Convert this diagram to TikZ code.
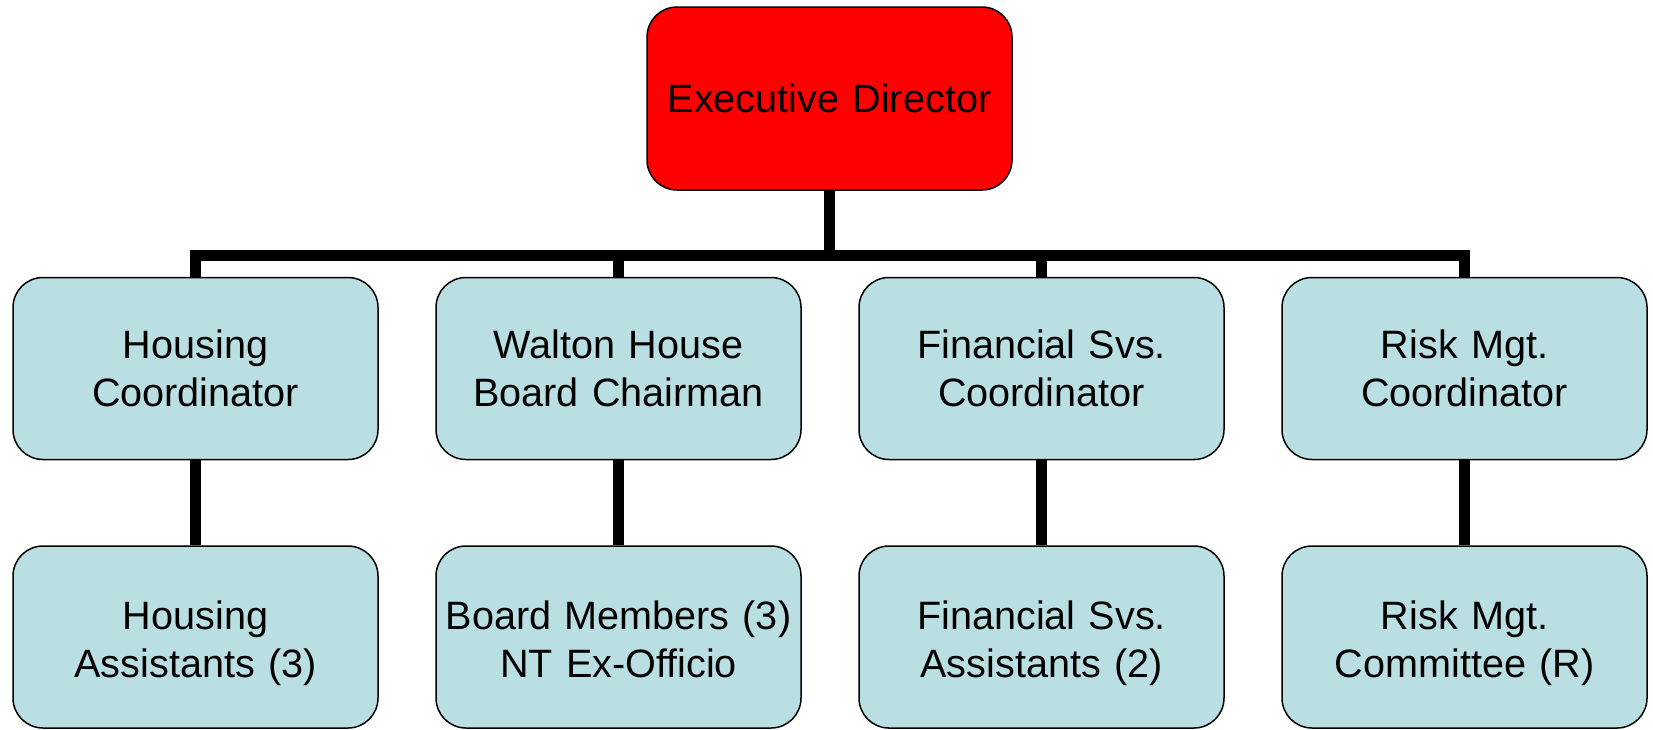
\documentclass[tikz,border=0pt]{standalone}
\usepackage{fontspec}
\setmainfont{Liberation Sans}
\usetikzlibrary{backgrounds}
\definecolor{boxblue}{HTML}{B9DFE3}
\definecolor{boxred}{HTML}{FF0000}
\newcommand{\lowpad}{\rule{0pt}{41pt}}
\newcommand{\lowend}{\rule[-8.5pt]{0pt}{8.5pt}}
\tikzset{
  orgbox/.style={draw=black, line width=1.5pt, rounded corners=30pt,
    minimum width=365pt, minimum height=182pt, inner sep=0pt,
    align=center, text width=360pt,
    font=\fontsize{39.6pt}{47.5pt}\selectfont},
  subbox/.style={orgbox, fill=boxblue},
  topbox/.style={orgbox, fill=boxred, minimum height=183pt},
  conn/.style={draw=black, line width=11pt, line join=miter}
}
\begin{document}
\begin{tikzpicture}[x=1pt, y=-1pt]
\useasboundingbox (0,0) rectangle (1653,729);
\node[topbox] (exec) at (829.5,98.5) {Executive Director};
\node[subbox] (hc) at (195.5,368.5) {Housing\\Coordinator};
\node[subbox] (wh) at (618.5,368.5) {Walton House\\Board Chairman};
\node[subbox] (fc) at (1041.5,368.5) {Financial Svs.\\Coordinator};
\node[subbox] (rc) at (1464.5,368.5) {Risk Mgt.\\Coordinator};
\node[subbox] (ha) at (195.5,637) {\lowpad Housing\\Assistants (3)\lowend};
\node[subbox] (bm) at (618.5,637) {\lowpad Board Members (3)\\NT Ex-Officio\lowend};
\node[subbox] (fa) at (1041.5,637) {\lowpad Financial Svs.\\Assistants (2)\lowend};
\node[subbox] (rm) at (1464.5,637) {\lowpad Risk Mgt.\\Committee (R)\lowend};
\coordinate (bar) at (0,255);
\begin{scope}[on background layer]
\draw[conn] (exec.south) -- (exec.south |- bar);
\draw[conn] (hc.north) -- (hc.north |- bar) -- (rc.north |- bar) -- (rc.north);
\draw[conn] (wh.north) -- (wh.north |- bar);
\draw[conn] (fc.north) -- (fc.north |- bar);
\draw[conn] (hc.south) -- (ha.north);
\draw[conn] (wh.south) -- (bm.north);
\draw[conn] (fc.south) -- (fa.north);
\draw[conn] (rc.south) -- (rm.north);
\end{scope}
\end{tikzpicture}
\end{document}
